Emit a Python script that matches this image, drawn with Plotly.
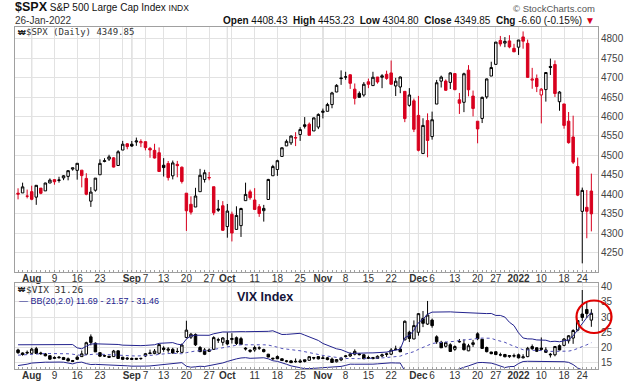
import plotly.graph_objects as go
import pandas as pd

# ---------------- data ----------------
dates = [
    "2021-07-28", "2021-07-29", "2021-07-30",
    "2021-08-02", "2021-08-03", "2021-08-04", "2021-08-05", "2021-08-06",
    "2021-08-09", "2021-08-10", "2021-08-11", "2021-08-12", "2021-08-13",
    "2021-08-16", "2021-08-17", "2021-08-18", "2021-08-19", "2021-08-20",
    "2021-08-23", "2021-08-24", "2021-08-25", "2021-08-26", "2021-08-27",
    "2021-08-30", "2021-08-31",
    "2021-09-01", "2021-09-02", "2021-09-03",
    "2021-09-07", "2021-09-08", "2021-09-09", "2021-09-10",
    "2021-09-13", "2021-09-14", "2021-09-15", "2021-09-16", "2021-09-17",
    "2021-09-20", "2021-09-21", "2021-09-22", "2021-09-23", "2021-09-24",
    "2021-09-27", "2021-09-28", "2021-09-29", "2021-09-30",
    "2021-10-01",
    "2021-10-04", "2021-10-05", "2021-10-06", "2021-10-07", "2021-10-08",
    "2021-10-11", "2021-10-12", "2021-10-13", "2021-10-14", "2021-10-15",
    "2021-10-18", "2021-10-19", "2021-10-20", "2021-10-21", "2021-10-22",
    "2021-10-25", "2021-10-26", "2021-10-27", "2021-10-28", "2021-10-29",
    "2021-11-01", "2021-11-02", "2021-11-03", "2021-11-04", "2021-11-05",
    "2021-11-08", "2021-11-09", "2021-11-10", "2021-11-11", "2021-11-12",
    "2021-11-15", "2021-11-16", "2021-11-17", "2021-11-18", "2021-11-19",
    "2021-11-22", "2021-11-23", "2021-11-24", "2021-11-26",
    "2021-11-29", "2021-11-30",
    "2021-12-01", "2021-12-02", "2021-12-03",
    "2021-12-06", "2021-12-07", "2021-12-08", "2021-12-09", "2021-12-10",
    "2021-12-13", "2021-12-14", "2021-12-15", "2021-12-16", "2021-12-17",
    "2021-12-20", "2021-12-21", "2021-12-22", "2021-12-23",
    "2021-12-27", "2021-12-28", "2021-12-29", "2021-12-30", "2021-12-31",
    "2022-01-03", "2022-01-04", "2022-01-05", "2022-01-06", "2022-01-07",
    "2022-01-10", "2022-01-11", "2022-01-12", "2022-01-13", "2022-01-14",
    "2022-01-18", "2022-01-19", "2022-01-20", "2022-01-21",
    "2022-01-24", "2022-01-25", "2022-01-26",
]

spx_open = [
    4402.95, 4403.59, 4395.12,
    4406.86, 4392.74, 4415.95, 4408.86, 4429.07,
    4437.77, 4435.79, 4442.18, 4446.08, 4464.84,
    4461.65, 4462.12, 4440.94, 4382.44, 4410.56,
    4450.29, 4484.40, 4490.45, 4493.75, 4474.10,
    4513.76, 4529.75,
    4528.80, 4534.48, 4532.42,
    4535.38, 4518.09, 4513.02, 4506.92,
    4474.81, 4479.33, 4447.49, 4477.09, 4469.74,
    4402.95, 4374.45, 4367.43, 4406.75, 4438.04,
    4442.12, 4419.54, 4362.41, 4370.67,
    4317.16,
    4348.84, 4309.87, 4319.57, 4383.73, 4406.51,
    4385.44, 4368.31, 4358.01, 4386.75, 4447.69,
    4463.72, 4497.34, 4524.42, 4532.24, 4546.12,
    4553.69, 4578.69, 4580.22, 4562.84, 4572.87,
    4610.62, 4613.34, 4630.65, 4662.93, 4699.26,
    4701.48, 4707.25, 4670.26, 4659.39, 4655.24,
    4689.30, 4679.42, 4701.50, 4700.72, 4708.44,
    4712.00, 4678.48, 4675.78, 4664.63,
    4628.75, 4640.25,
    4602.82, 4504.73, 4589.49,
    4548.37, 4631.97, 4690.86, 4691.00, 4687.64,
    4710.30, 4642.99, 4636.46, 4719.13, 4652.50,
    4587.90, 4594.96, 4650.36, 4703.96,
    4733.99, 4795.49, 4788.64, 4794.23, 4775.21,
    4778.14, 4804.51, 4787.99, 4693.39, 4697.66,
    4655.34, 4669.14, 4728.59, 4733.56, 4637.99,
    4632.24, 4588.03, 4547.35, 4471.38,
    4356.32, 4366.64, 4408.43,
]
spx_high = [
    4415.47, 4429.97, 4412.25,
    4422.18, 4423.79, 4416.17, 4429.76, 4440.82,
    4439.39, 4445.21, 4449.44, 4461.77, 4468.37,
    4480.26, 4462.12, 4454.32, 4418.61, 4441.73,
    4489.88, 4492.81, 4501.71, 4495.90, 4513.33,
    4537.36, 4531.39,
    4537.11, 4545.85, 4541.45,
    4535.38, 4521.79, 4529.90, 4520.47,
    4492.99, 4485.68, 4486.87, 4485.87, 4471.52,
    4402.95, 4394.87, 4416.75, 4465.40, 4463.12,
    4457.30, 4419.54, 4385.57, 4382.55,
    4375.19,
    4355.51, 4369.23, 4365.57, 4429.97, 4412.02,
    4415.88, 4374.89, 4372.87, 4439.73, 4475.82,
    4488.75, 4520.40, 4540.87, 4551.44, 4559.67,
    4572.62, 4598.53, 4584.57, 4597.55, 4608.08,
    4620.34, 4635.15, 4663.46, 4683.00, 4718.50,
    4714.92, 4708.53, 4684.85, 4664.55, 4688.47,
    4697.42, 4714.95, 4701.50, 4708.80, 4717.75,
    4743.83, 4699.39, 4702.87, 4664.63,
    4672.95, 4646.02,
    4652.94, 4595.46, 4608.03,
    4612.60, 4694.04, 4705.06, 4695.26, 4713.57,
    4710.30, 4660.47, 4712.60, 4731.99, 4666.70,
    4587.90, 4651.14, 4697.67, 4740.74,
    4791.49, 4807.02, 4804.06, 4808.93, 4786.83,
    4796.64, 4818.62, 4797.70, 4725.01, 4707.95,
    4673.02, 4714.13, 4748.83, 4744.13, 4665.13,
    4632.24, 4611.55, 4602.11, 4494.52,
    4417.35, 4411.01, 4453.23,
]
spx_low = [
    4387.01, 4403.59, 4389.65,
    4384.81, 4373.00, 4400.23, 4408.86, 4429.07,
    4424.74, 4430.03, 4436.42, 4435.96, 4460.82,
    4437.66, 4417.83, 4397.59, 4367.73, 4406.80,
    4450.29, 4482.28, 4485.66, 4468.99, 4474.10,
    4513.76, 4515.80,
    4522.02, 4524.66, 4521.29,
    4513.00, 4493.95, 4492.07, 4457.66,
    4445.70, 4435.46, 4438.37, 4443.80, 4427.76,
    4305.91, 4347.96, 4367.43, 4406.75, 4430.27,
    4436.19, 4346.33, 4355.08, 4306.24,
    4288.52,
    4278.94, 4309.87, 4290.49, 4383.73, 4386.22,
    4360.59, 4342.09, 4329.92, 4386.75, 4447.69,
    4447.47, 4496.41, 4524.40, 4526.89, 4524.00,
    4537.36, 4569.17, 4551.66, 4562.84, 4567.59,
    4595.06, 4613.34, 4621.19, 4662.59, 4681.32,
    4694.39, 4670.87, 4630.86, 4648.31, 4650.77,
    4672.86, 4679.42, 4684.41, 4672.78, 4694.22,
    4682.17, 4652.66, 4659.89, 4585.43,
    4625.26, 4560.00,
    4510.27, 4504.73, 4495.12,
    4540.51, 4631.97, 4674.52, 4665.98, 4670.64,
    4667.60, 4606.52, 4611.22, 4651.89, 4600.22,
    4531.10, 4583.16, 4645.53, 4703.96,
    4733.99, 4780.04, 4778.08, 4775.33, 4765.75,
    4758.17, 4774.27, 4699.44, 4671.26, 4662.74,
    4582.24, 4638.27, 4706.71, 4650.29, 4614.75,
    4568.70, 4530.20, 4477.95, 4395.34,
    4222.62, 4287.11, 4304.80,
]
spx_close = [
    4400.64, 4419.15, 4395.26,
    4387.16, 4423.15, 4402.66, 4429.10, 4436.52,
    4432.35, 4436.75, 4447.70, 4460.83, 4468.00,
    4479.71, 4448.08, 4400.27, 4405.80, 4441.67,
    4479.53, 4486.23, 4496.19, 4470.00, 4509.37,
    4528.79, 4522.68,
    4524.09, 4536.95, 4535.43,
    4520.03, 4514.07, 4493.28, 4458.58,
    4468.73, 4443.05, 4480.70, 4473.75, 4432.99,
    4357.73, 4354.19, 4395.64, 4448.98, 4455.48,
    4443.11, 4352.63, 4359.46, 4307.54,
    4357.04,
    4300.46, 4345.72, 4363.55, 4399.76, 4391.34,
    4361.19, 4350.65, 4363.80, 4438.26, 4471.37,
    4486.46, 4519.63, 4536.19, 4549.78, 4544.90,
    4566.48, 4574.79, 4551.68, 4596.42, 4605.38,
    4613.67, 4630.65, 4660.57, 4680.06, 4697.53,
    4701.70, 4685.25, 4646.71, 4649.27, 4682.85,
    4682.80, 4700.90, 4688.67, 4704.54, 4697.96,
    4682.94, 4690.70, 4701.46, 4594.62,
    4655.27, 4567.00,
    4513.04, 4577.10, 4538.43,
    4591.67, 4686.75, 4701.21, 4667.45, 4712.02,
    4668.97, 4634.09, 4709.85, 4668.67, 4620.64,
    4568.02, 4649.23, 4696.56, 4725.79,
    4791.19, 4786.35, 4793.06, 4778.73, 4766.18,
    4796.56, 4793.54, 4700.58, 4696.05, 4677.03,
    4670.29, 4713.07, 4726.35, 4659.03, 4662.85,
    4577.11, 4532.76, 4482.73, 4397.94,
    4410.13, 4356.45, 4349.85,
]
spx_prior_close = 4401.46  # close of the session before the first bar

vix_open = [
    19.20, 18.20, 18.40,
    18.10, 19.60, 18.20, 17.90, 17.30,
    16.40, 16.60, 16.70, 16.30, 15.70,
    16.80, 17.00, 17.80, 23.50, 21.40,
    18.30, 17.30, 17.10, 17.00, 18.90,
    16.80, 16.20,
    16.40, 16.10, 16.40,
    17.20, 18.00, 18.00, 18.10,
    19.80, 19.10, 19.40, 18.70, 18.40,
    23.30, 23.40, 24.30, 20.00, 19.20,
    19.20, 19.40, 22.40, 21.70,
    22.30,
    22.60, 23.20, 22.90, 19.80, 19.10,
    19.20, 19.80, 19.30, 17.80, 16.50,
    17.00, 16.30, 15.60, 15.60, 15.30,
    15.60, 15.40, 15.80, 16.70, 17.00,
    16.60, 16.60, 16.20, 15.30, 15.90,
    17.00, 17.20, 17.80, 17.90, 17.60,
    16.70, 16.70, 16.40, 17.20, 17.70,
    17.80, 19.50, 19.50, 22.50,
    25.00, 22.80,
    25.00, 29.50, 27.70,
    29.00, 23.50, 21.70, 20.40, 20.90,
    19.40, 22.00, 21.20, 18.90, 21.00,
    24.50, 22.70, 20.00, 18.50,
    18.60, 17.60, 17.70, 17.00, 17.30,
    17.60, 16.60, 17.00, 20.30, 19.90,
    19.80, 19.20, 17.80, 17.60, 20.60,
    20.70, 22.20, 23.10, 25.70,
    31.00, 32.50, 29.00,
]
vix_high = [
    19.60, 18.40, 19.00,
    19.90, 20.20, 18.60, 18.20, 17.40,
    17.10, 17.20, 16.90, 16.70, 15.90,
    17.40, 19.00, 21.90, 24.30, 21.70,
    18.40, 17.60, 17.30, 19.20, 19.00,
    16.90, 16.80,
    16.70, 16.50, 16.60,
    18.20, 19.30, 19.50, 21.00,
    20.40, 20.10, 19.90, 19.80, 21.30,
    28.80, 24.80, 24.60, 20.50, 19.80,
    19.70, 23.70, 23.20, 23.40,
    25.00,
    24.70, 23.60, 23.50, 20.10, 19.40,
    20.60, 20.40, 19.60, 17.90, 16.60,
    17.40, 16.40, 15.90, 15.90, 16.40,
    16.20, 16.00, 17.00, 16.90, 17.20,
    17.30, 16.90, 16.70, 16.20, 16.90,
    17.50, 18.40, 19.40, 18.10, 17.80,
    17.30, 16.90, 17.40, 18.00, 18.30,
    19.80, 20.60, 20.30, 28.90,
    25.50, 28.90,
    31.30, 32.00, 35.30,
    29.50, 24.00, 22.20, 21.90, 21.40,
    20.70, 22.80, 22.70, 21.20, 22.50,
    25.00, 22.80, 20.30, 18.60,
    18.70, 18.30, 17.90, 17.50, 18.00,
    18.00, 17.80, 20.20, 21.00, 20.10,
    23.30, 20.10, 18.20, 20.50, 21.00,
    23.10, 24.10, 26.00, 29.00,
    38.90, 35.00, 32.60,
]
vix_low = [
    17.90, 17.30, 17.80,
    17.90, 17.90, 17.60, 17.10, 16.00,
    16.20, 16.40, 15.90, 15.50, 15.40,
    15.90, 16.90, 17.50, 20.70, 18.50,
    16.90, 16.90, 16.60, 16.90, 16.30,
    15.90, 15.90,
    15.90, 15.90, 15.90,
    16.90, 17.80, 17.80, 17.80,
    18.60, 18.30, 18.00, 18.10, 18.30,
    23.00, 22.80, 20.50, 18.50, 17.50,
    18.60, 19.20, 21.50, 20.60,
    20.70,
    21.30, 20.80, 20.90, 19.00, 18.30,
    18.60, 19.20, 18.40, 16.80, 15.90,
    16.20, 15.60, 15.10, 15.00, 15.00,
    15.00, 15.10, 15.70, 16.00, 16.10,
    16.20, 15.80, 15.10, 15.10, 15.50,
    16.70, 16.90, 17.40, 17.40, 16.20,
    16.30, 16.10, 16.30, 16.80, 16.90,
    17.50, 19.10, 18.50, 22.40,
    21.80, 22.70,
    23.90, 26.70, 27.40,
    26.50, 21.20, 19.90, 20.00, 18.60,
    18.90, 21.60, 19.00, 18.80, 20.20,
    22.40, 19.60, 18.40, 17.80,
    17.50, 17.10, 16.80, 16.60, 16.70,
    16.40, 16.40, 16.80, 19.20, 18.50,
    19.00, 18.30, 16.70, 17.10, 19.10,
    20.40, 21.30, 21.20, 25.30,
    28.70, 29.70, 26.80,
]
vix_close = [
    18.31, 17.70, 18.24,
    19.46, 18.04, 17.97, 17.28, 16.15,
    16.72, 16.79, 16.06, 15.59, 15.45,
    16.12, 17.91, 21.57, 21.67, 18.56,
    17.15, 17.22, 16.79, 18.84, 16.39,
    16.11, 16.48,
    16.11, 16.41, 16.41,
    17.96, 18.18, 18.80, 20.95,
    19.37, 19.46, 18.18, 18.69, 20.81,
    25.71, 24.36, 20.87, 18.63, 17.75,
    18.76, 23.25, 22.56, 23.14,
    21.15,
    22.96, 21.30, 21.00, 19.54, 18.77,
    20.00, 19.85, 18.64, 16.86, 16.30,
    16.30, 15.70, 15.49, 15.01, 15.43,
    15.24, 15.98, 16.98, 16.53, 16.26,
    16.41, 16.03, 15.10, 16.03, 16.48,
    17.22, 17.78, 18.73, 17.66, 16.29,
    16.49, 16.37, 17.11, 17.59, 17.91,
    19.17, 19.38, 18.58, 28.62,
    22.96, 27.19,
    31.12, 27.95, 30.67,
    27.18, 21.89, 19.90, 21.58, 18.69,
    20.31, 21.89, 19.29, 20.57, 21.57,
    22.87, 19.70, 18.63, 17.96,
    17.68, 17.54, 16.95, 17.33, 17.22,
    16.60, 16.91, 19.73, 19.61, 18.76,
    19.40, 18.41, 17.62, 20.31, 19.19,
    22.79, 23.85, 25.59, 28.85,
    29.90, 31.16, 31.26,
]
# 19 VIX closes before the first bar (warm-up for the 20-day Bollinger Bands)
vix_prior_closes = [
    15.83, 15.48, 15.07, 16.44, 16.20, 19.00, 16.18, 16.17, 17.12, 16.33,
    17.01, 18.45, 22.50, 19.73, 17.91, 17.69, 17.20, 17.58, 19.36,
]

tick_dates = [
    "2021-08-02", "2021-08-09", "2021-08-16", "2021-08-23", "2021-08-30",
    "2021-09-01", "2021-09-07", "2021-09-13", "2021-09-20", "2021-09-27",
    "2021-10-01", "2021-10-04", "2021-10-11", "2021-10-18", "2021-10-25",
    "2021-11-01", "2021-11-08", "2021-11-15", "2021-11-22", "2021-11-29",
    "2021-12-01", "2021-12-06", "2021-12-13", "2021-12-20", "2021-12-27",
    "2022-01-03", "2022-01-10", "2022-01-18", "2022-01-24",
]
tick_labels = [
    "<b>Aug</b>", "9", "16", "23", "",
    "<b>Sep</b>", "7", "13", "20", "27",
    "<b>Oct</b>", "", "11", "18", "25",
    "<b>Nov</b>", "8", "15", "22", "",
    "<b>Dec</b>", "6", "13", "20", "27",
    "<b>2022</b>", "10", "18", "24",
]
month_dates = ["2021-08-02", "2021-09-01", "2021-10-01", "2021-11-01",
               "2021-12-01", "2022-01-03"]
spx_ticks = [4250, 4300, 4350, 4400, 4450, 4500, 4550, 4600, 4650, 4700, 4750, 4800]
vix_ticks = [15, 20, 25, 30, 35, 40]

n = len(dates)
for arr in (spx_open, spx_high, spx_low, spx_close, vix_open, vix_high, vix_low, vix_close):
    assert len(arr) == n, len(arr)

# ---------------- derived ----------------
idx = list(range(n))
pos = {d: i for i, d in enumerate(dates)}
tickvals = [pos[d] for d in tick_dates]
month_pos = [pos[d] for d in month_dates]

prev_close = [spx_prior_close] + spx_close[:-1]
up = [c >= p for c, p in zip(spx_close, prev_close)]

full = pd.Series(vix_prior_closes + vix_close)
mid = full.rolling(20).mean()
sd = full.rolling(20).std(ddof=0)
k = len(vix_prior_closes)
bb_mid = mid.iloc[k:].tolist()
bb_up = (mid + 2 * sd).iloc[k:].tolist()
bb_lo = (mid - 2 * sd).iloc[k:].tolist()

# ---------------- geometry (pixels) ----------------
W, H = 638, 384
PL, PR, PT, PB = 15, 598, 27, 369


def fx(p):
    return (p - PL) / (PR - PL)


def fy(p):
    return (PB - p) / (PB - PT)


RED = "#d8001e"
NAVY = "#23238e"
FONT = "Liberation Sans, Arial, sans-serif"
MONO = "DejaVu Sans Mono, monospace"

fig = go.Figure()


def sub(flag):
    return [i for i in idx if up[i] == flag]


for flag, col in ((True, "#000000"), (False, RED)):
    sel = sub(flag)
    fig.add_trace(go.Candlestick(
        x=sel,
        open=[spx_open[i] for i in sel],
        high=[spx_high[i] for i in sel],
        low=[spx_low[i] for i in sel],
        close=[spx_close[i] for i in sel],
        increasing=dict(line=dict(color=col, width=1), fillcolor="#ffffff"),
        decreasing=dict(line=dict(color=col, width=1), fillcolor=col),
        xaxis="x", yaxis="y", hoverinfo="skip", showlegend=False,
    ))

fig.add_trace(go.Scatter(x=idx, y=bb_up, mode="lines", line=dict(color=NAVY, width=1),
                         xaxis="x2", yaxis="y2", hoverinfo="skip", showlegend=False))
fig.add_trace(go.Scatter(x=idx, y=bb_lo, mode="lines", line=dict(color=NAVY, width=1),
                         xaxis="x2", yaxis="y2", hoverinfo="skip", showlegend=False))
fig.add_trace(go.Scatter(x=idx, y=bb_mid, mode="lines",
                         line=dict(color="#5050b8", width=1, dash="dot"),
                         xaxis="x2", yaxis="y2", hoverinfo="skip", showlegend=False))
fig.add_trace(go.Candlestick(
    x=idx, open=vix_open, high=vix_high, low=vix_low, close=vix_close,
    increasing=dict(line=dict(color="#000000", width=1), fillcolor="#ffffff"),
    decreasing=dict(line=dict(color="#000000", width=1), fillcolor="#000000"),
    xaxis="x2", yaxis="y2", hoverinfo="skip", showlegend=False,
))

xrange = [(PL - 18.05) / 4.55, (PR - 18.05) / 4.55]
xcommon = dict(
    range=xrange, tickmode="array", tickvals=tickvals, ticktext=tick_labels,
    tickangle=0, showgrid=True, gridcolor="#e2e2e2", gridwidth=1,
    showline=True, linecolor="#a0a0a0", linewidth=1, mirror=True,
    ticks="outside", ticklen=0, tickcolor="#ffffff",
    tickfont=dict(family=FONT, size=10, color="#333333"),
    zeroline=False, rangeslider=dict(visible=False), fixedrange=True,
    automargin=False,
    minor=dict(ticks="inside", ticklen=2, dtick=1, tick0=0, tickcolor="#a0a0a0",
               showgrid=False),
)
ycommon = dict(
    side="right", showgrid=True, gridcolor="#e2e2e2", gridwidth=1,
    showline=True, linecolor="#a0a0a0", linewidth=1, mirror=True,
    ticks="", tickfont=dict(family=FONT, size=10, color="#444444"),
    zeroline=False, fixedrange=True, automargin=False,
)

shapes = []
for m in month_pos:
    for xr, yr in (("x", "y domain"), ("x2", "y2 domain")):
        shapes.append(dict(type="line", xref=xr, yref=yr, x0=m, x1=m, y0=0, y1=1,
                           line=dict(color="#b4b4b4", width=1), layer="below"))
shapes.append(dict(type="circle", xref="paper", yref="paper",
                   x0=fx(576.5), x1=fx(611.5), y0=fy(333), y1=fy(300.5),
                   line=dict(color="#e00000", width=2.2)))

ann = []


def note(text, x, y, anchor="left", size=10, color="#222222", family=FONT):
    ann.append(dict(text=text, xref="paper", yref="paper", x=fx(x), y=fy(y),
                    xanchor=anchor, yanchor="middle", showarrow=False,
                    font=dict(family=family, size=size, color=color)))


note("<span style='font-size:12.5px'><b>$SPX</b></span> S&P 500 Large Cap Index "
     "<span style='font-size:8.5px'>INDX</span>", 13, 7.5, size=10, color="#111111")
note("26-Jan-2022", 13, 21, size=10, color="#333333")
note("<b>Open</b> 4408.43  <b>High</b> 4453.23  <b>Low</b> 4304.80  "
     "<b>Close</b> 4349.85  <b>Chg</b> -6.60 (-0.15%) "
     f"<span style='color:{RED}'>▼</span>", 597, 21, anchor="right", size=10,
     color="#111111")
note("© StockCharts.com", 597, 8.3, anchor="right", size=9.5, color="#555555")
note("<b>₩</b>", 16, 32.3, size=8, color="#222222")
note("$SPX (Daily) 4349.85", 23.5, 32.3, size=9, color="#333333", family=MONO)
note("<b>₩</b>", 16, 289, size=7.5, color="#222222")
note("$VIX 31.26", 23.5, 289, size=9.5, color="#333333", family=MONO)
note("— BB(20,2.0) 11.69 - 21.57 - 31.46", 16.5, 300.5, size=9, color=NAVY)
note("<b>VIX Index</b>", 264.5, 296.7, anchor="center", size=12.5, color="#14143a")

fig.update_layout(
    width=W, height=H, autosize=False,
    margin=dict(l=PL, r=W - PR, t=PT, b=H - PB, pad=0, autoexpand=False),
    paper_bgcolor="#ffffff", plot_bgcolor="#ffffff",
    showlegend=False, boxgap=0.22,
    xaxis=dict(**xcommon, anchor="y", domain=[0, 1], ticklabelstandoff=-3),
    yaxis=dict(**ycommon, anchor="x", domain=[fy(272), 1], range=[4200.4, 4830],
               tickmode="array", tickvals=spx_ticks),
    xaxis2=dict(**xcommon, anchor="y2", domain=[0, 1], ticklabelstandoff=-3),
    yaxis2=dict(**ycommon, anchor="x2", domain=[0, fy(283)], range=[12.93, 41.2],
                tickmode="array", tickvals=vix_ticks),
    shapes=shapes, annotations=ann,
)

fig.write_html(
    "out.html",
    config={"displayModeBar": False},
    post_script="document.body.style.margin='0px';document.body.style.overflow='hidden';",
)
